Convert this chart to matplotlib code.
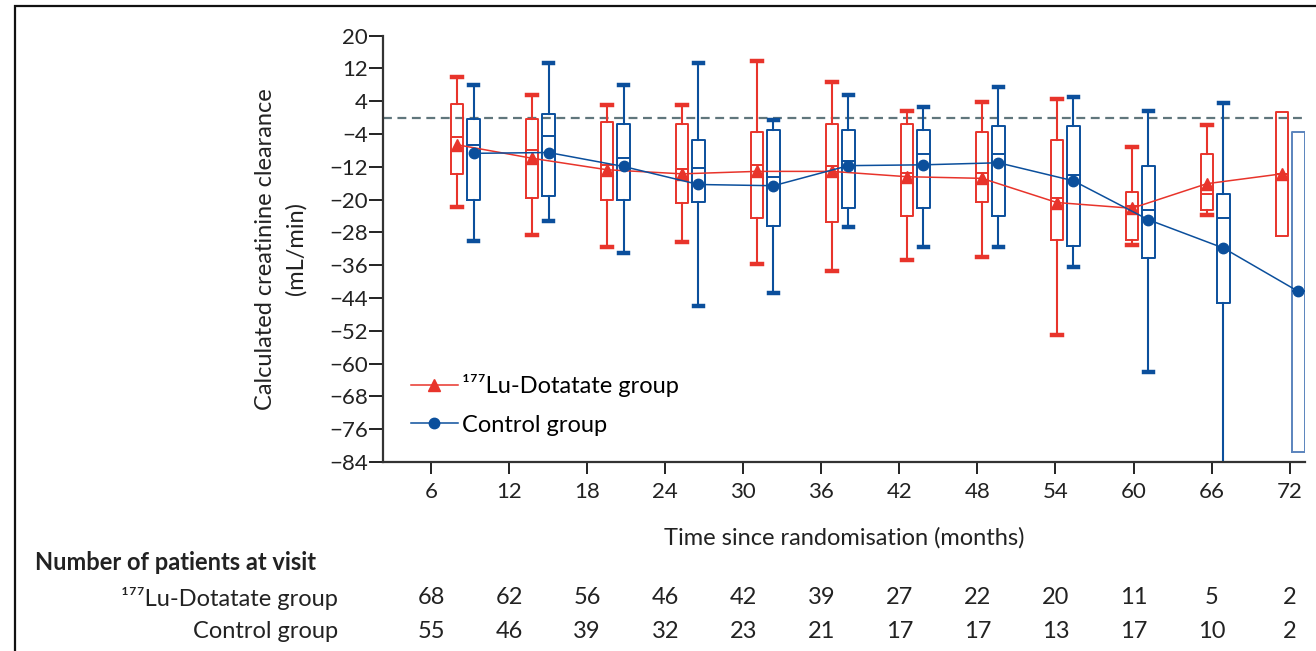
import matplotlib
matplotlib.use("Agg")
import matplotlib.pyplot as plt
import matplotlib.transforms as mtransforms
from matplotlib.patches import Rectangle
import numpy as np

plt.rcParams['font.family'] = ['Lato', 'DejaVu Sans']

# ---- data ----
months = [6, 12, 18, 24, 30, 36, 42, 48, 54, 60, 66, 72]

# 177Lu-Dotatate group
lu_whislo = [-21.7, -28.6, -31.6, -30.4, -35.7, -37.3, -34.8, -34.0, -52.9, -31.0, -23.7, None]
lu_q1 = [-13.7, -19.6, -20.1, -20.8, -24.5, -25.4, -23.9, -20.5, -29.8, -29.8, -22.5, -28.8]
lu_med = [-4.6, -8.0, -11.5, -12.5, -11.5, -11.9, -13.5, -13.5, -19.5, -21.5, -18.6, -13.7]
lu_q3 = [3.4, -0.2, -1.0, -1.6, -3.5, -1.5, -1.6, -3.5, -5.4, -18.2, -8.8, 1.5]
lu_whishi = [10.0, 5.5, 3.1, 3.1, 13.9, 8.8, 1.7, 3.8, 4.6, -7.1, -1.8, None]
lu_mean = [-6.6, -9.9, -12.7, -13.7, -13.1, -13.1, -14.4, -14.8, -20.7, -22.1, -16.1, -13.7]

# Control group
ct_whislo = [-30.0, -25.2, -32.9, -46.0, -42.8, -26.6, -31.6, -31.6, -36.4, -62.0, -95.0, None]
ct_q1 = [-20.1, -19.1, -20.1, -20.5, -26.4, -22.1, -22.1, -23.9, -31.4, -34.3, -45.1, -81.5]
ct_med = [-6.6, -4.4, -9.9, -12.3, -14.4, -10.5, -8.9, -8.9, -14.0, -22.6, -24.5, -42.4]
ct_q3 = [-0.2, 0.8, -1.6, -5.4, -3.0, -3.0, -3.0, -2.0, -2.0, -11.8, -18.6, -3.4]
ct_whishi = [8.0, 13.4, 8.0, 13.4, -0.5, 5.5, 2.5, 7.6, 5.0, 1.7, 3.7, None]
ct_mean = [-8.7, -8.5, -11.9, -16.3, -16.6, -11.7, -11.5, -11.0, -15.4, -24.9, -31.8, -42.4]

n_lu = [68, 62, 56, 46, 42, 39, 27, 22, 20, 11, 5, 2]
n_ct = [55, 46, 39, 32, 23, 21, 17, 17, 13, 17, 10, 2]

RED = '#e8342b'
BLUE = '#0b4f9c'
TXT = '#222222'
FS = 17

fig = plt.figure(figsize=(13.16, 6.51), dpi=100)
ax = fig.add_axes([383 / 1316, 1 - 462 / 651, (1305 - 383) / 1316, (462 - 35.7) / 651])

# the boxes sit on their own (slightly compressed) category scale
pos_lu = np.linspace(8.0, 71.4, len(months))
pos_ct = pos_lu + 1.27


def stats(lo, q1, med, q3, hi, mean):
    out = []
    for a, b, c, d, e, m in zip(lo, q1, med, q3, hi, mean):
        out.append(dict(whislo=b if a is None else a, q1=b, med=c, q3=d,
                        whishi=d if e is None else e, mean=m))
    return out


def draw(st, pos, color, means, marker, label, ms):
    art = ax.bxp(st, positions=pos, widths=0.95, showfliers=False, manage_ticks=False,
                 boxprops=dict(color=color, lw=1.4),
                 medianprops=dict(color=color, lw=1.4),
                 whiskerprops=dict(color=color, lw=1.5),
                 capprops=dict(color=color, lw=3.2), capwidths=0.75)
    # last visit has only two patients: no whiskers
    for c in art['caps'][-2:]:
        c.set_visible(False)
    ax.plot(pos, means, color=color, lw=1.1, marker=marker, markersize=ms,
            label=label, zorder=5)
    return art


draw(stats(lu_whislo, lu_q1, lu_med, lu_q3, lu_whishi, lu_mean), pos_lu, RED,
     lu_mean, '^', '¹⁷⁷Lu-Dotatate group', 8)
art = draw(stats(ct_whislo, ct_q1, ct_med, ct_q3, ct_whishi, ct_mean), pos_ct, BLUE,
           ct_mean, 'o', 'Control group', 7.5)
art['boxes'][-1].set_color('#5b84bd')

ax.axhline(0, color='#60767c', lw=1.6, ls=(0, (4, 2.5)), zorder=0)

ax.set_xlim(2.31, 73.18)
ax.set_ylim(-84, 20)
ax.set_xticks(months)
ax.set_yticks(np.arange(20, -85, -8))
ax.tick_params(axis='y', length=10, width=1.4, labelsize=16, pad=1, colors=TXT)
ax.tick_params(axis='x', length=8.5, width=1.4, labelsize=16, pad=6, colors=TXT)
for s in ['top', 'right']:
    ax.spines[s].set_visible(False)
for s in ['left', 'bottom']:
    ax.spines[s].set_linewidth(1.6)
    ax.spines[s].set_color('#333333')

ax.set_ylabel('Calculated creatinine clearance\n(mL/min)', fontsize=FS, labelpad=16,
              color=TXT, linespacing=1.5)
ax.set_xlabel('Time since randomisation (months)', fontsize=FS, labelpad=18, color=TXT)

ax.legend(loc='lower left', bbox_to_anchor=(0.02, 0.04), frameon=False, fontsize=FS,
          handlelength=2.0, handletextpad=0.15, labelspacing=0.75, borderaxespad=0)

# number at risk table
trans = mtransforms.blended_transform_factory(ax.transData, fig.transFigure)
fig.text(35 / 1316, 1 - 563 / 651, 'Number of patients at visit', fontsize=FS,
         fontweight='bold', va='center', ha='left', color=TXT)
fig.text(338 / 1316, 1 - 598 / 651, '¹⁷⁷Lu-Dotatate group', fontsize=FS,
         va='center', ha='right', color=TXT)
fig.text(338 / 1316, 1 - 632 / 651, 'Control group', fontsize=FS,
         va='center', ha='right', color=TXT)
for m, a, b in zip(months, n_lu, n_ct):
    ax.text(m, 1 - 598 / 651, str(a), transform=trans, ha='center', va='center',
            fontsize=FS, color=TXT)
    ax.text(m, 1 - 632 / 651, str(b), transform=trans, ha='center', va='center',
            fontsize=FS, color=TXT)

# outer frame
fig.patches.append(Rectangle((15 / 1316, -0.05), 1.1, 1 - 6 / 651 + 0.05,
                             transform=fig.transFigure, fill=False, lw=1.6,
                             edgecolor='#111111', clip_on=False))

fig.savefig('out.png', dpi=100)
